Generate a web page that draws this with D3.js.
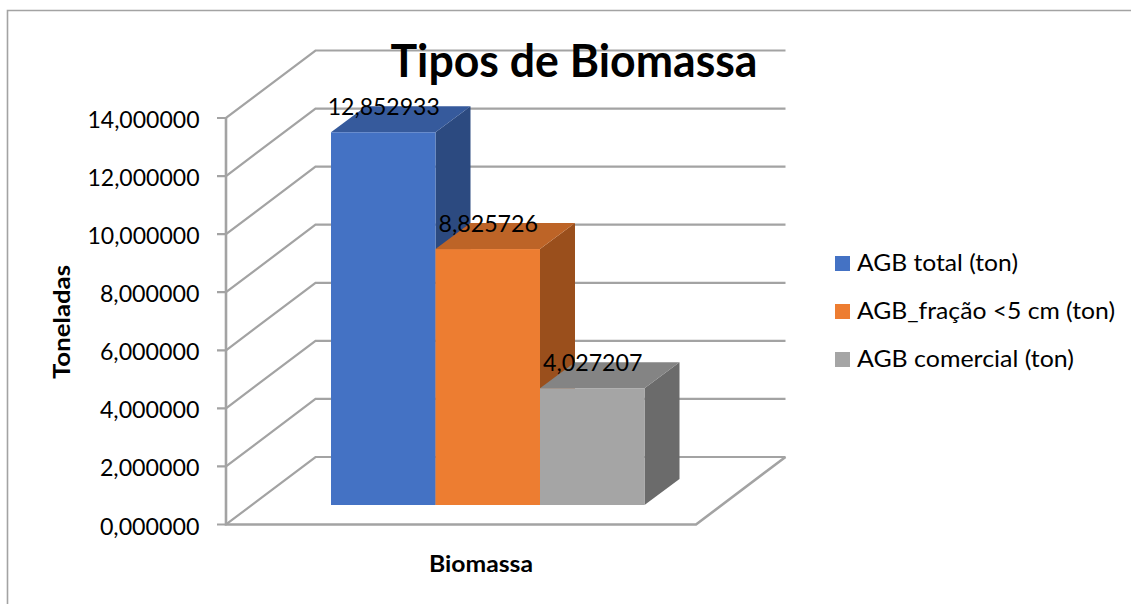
<!DOCTYPE html>
<html><head><meta charset="utf-8">
<script src="https://cdn.jsdelivr.net/npm/d3@7"></script>
<style>html,body{margin:0;padding:0;background:#fff}svg{display:block}text{font-family:Lato,"Open Sans",sans-serif;fill:#000}</style>
</head><body><svg id="c" width="1131" height="604"></svg>
<script>
const seriesNames = ["AGB total (ton)", "AGB_fração <5 cm (ton)", "AGB comercial (ton)"];
const seriesValues = [12.852933, 8.825726, 4.027207];
const frontColors = ["#4472c4", "#ed7d31", "#a5a5a5"];
const topColors = ["#365a9c", "#bd6427", "#848484"];
const sideColors = ["#2c4a80", "#9a4f1c", "#6b6b6b"];
const axisTicks = [0, 2, 4, 6, 8, 10, 12, 14];
const chartTitle = "Tipos de Biomassa";
const xTitle = "Biomassa";
const yTitle = "Toneladas";

const grid = "#a3a3a3";
const svg = d3.select("#c");
const fmt = v => d3.format(".6f")(v).replace(".", ",");
const numWidth = s => s.length * 12.45;

// frame
svg.append("path").attr("d", "M7.5,604V10.5H1131").attr("fill", "none").attr("stroke", "#a3a3a3").attr("stroke-width", 1.6);

const y = d3.scaleLinear().domain([0, 14]).range([524.5, 118]);
const x0 = 226, wallDx = 89.5, wallDy = -67.5, floorRight = 696;

// back-wall gridlines, side-wall diagonals, ticks
const g = svg.append("g").attr("fill", "none").attr("stroke", grid).attr("stroke-width", 2.2);
g.selectAll(".gl").data(axisTicks).join("path")
  .attr("d", d => `M${x0 - 9},${y(d)}H${x0}L${x0 + wallDx},${y(d) + wallDy}H${floorRight + wallDx}`);
g.append("path").attr("stroke-width", 2.6).attr("d", `M${x0},${y(14)}V${y(0)}H${floorRight}L${floorRight + wallDx},${y(0) + wallDy}`);

// bars
const barX = d3.scaleBand().domain(seriesNames).range([331, 644.5]).padding(0);
const barY = d3.scaleLinear().domain([0, 14]).range([505, 99]);
const dx = 35, dy = -26;
const bars = svg.append("g").selectAll("g").data(seriesNames).join("g");
bars.append("path").attr("fill", (d, i) => sideColors[i])
  .attr("d", (d, i) => { const r = barX(d) + barX.bandwidth(), t = barY(seriesValues[i]), b = barY(0);
    return `M${r},${t}l${dx},${dy}V${b + dy}L${r},${b}Z`; });
bars.append("path").attr("fill", (d, i) => topColors[i])
  .attr("d", (d, i) => { const l = barX(d), w = barX.bandwidth(), t = barY(seriesValues[i]);
    return `M${l},${t}l${dx},${dy}h${w}l${-dx},${-dy}Z`; });
bars.append("rect").attr("fill", (d, i) => frontColors[i])
  .attr("x", d => barX(d)).attr("width", barX.bandwidth())
  .attr("y", (d, i) => barY(seriesValues[i])).attr("height", (d, i) => barY(0) - barY(seriesValues[i]));
bars.append("text").attr("font-size", 24).attr("text-anchor", "middle")
  .attr("x", d => barX(d) + barX.bandwidth() / 2 + 0.5)
  .attr("y", (d, i) => barY(seriesValues[i]) - 17)
  .attr("textLength", (d, i) => numWidth(fmt(seriesValues[i]))).attr("lengthAdjust", "spacingAndGlyphs")
  .text((d, i) => fmt(seriesValues[i]));

// axis labels
svg.append("g").selectAll("text").data(axisTicks).join("text")
  .attr("x", 199.5).attr("y", d => y(d) + 10).attr("text-anchor", "end").attr("font-size", 24)
  .attr("textLength", d => numWidth(fmt(d))).attr("lengthAdjust", "spacingAndGlyphs").text(fmt);

svg.append("text").attr("x", 574).attr("y", 77).attr("text-anchor", "middle").attr("font-size", 46).attr("font-weight", 700)
  .attr("textLength", 367).attr("lengthAdjust", "spacingAndGlyphs").text(chartTitle);
svg.append("text").attr("x", 481).attr("y", 572).attr("text-anchor", "middle").attr("font-size", 22).attr("font-weight", 700)
  .attr("textLength", 104).attr("lengthAdjust", "spacingAndGlyphs").text(xTitle);
svg.append("text").attr("transform", "translate(70,322) rotate(-90)").attr("text-anchor", "middle").attr("font-size", 22).attr("font-weight", 700)
  .attr("textLength", 114).attr("lengthAdjust", "spacingAndGlyphs").text(yTitle);

// legend
const legY = d3.scalePoint().domain(seriesNames).range([263.5, 359.5]);
const legW = [161, 258, 217];
const leg = svg.append("g").selectAll("g").data(seriesNames).join("g");
leg.append("rect").attr("x", 835).attr("y", d => legY(d) - 7.5).attr("width", 15).attr("height", 15).attr("fill", (d, i) => frontColors[i]);
leg.append("text").attr("x", 857).attr("y", d => legY(d) + 7).attr("font-size", 23)
  .attr("textLength", (d, i) => legW[i]).attr("lengthAdjust", "spacingAndGlyphs").text(d => d);
</script></body></html>
